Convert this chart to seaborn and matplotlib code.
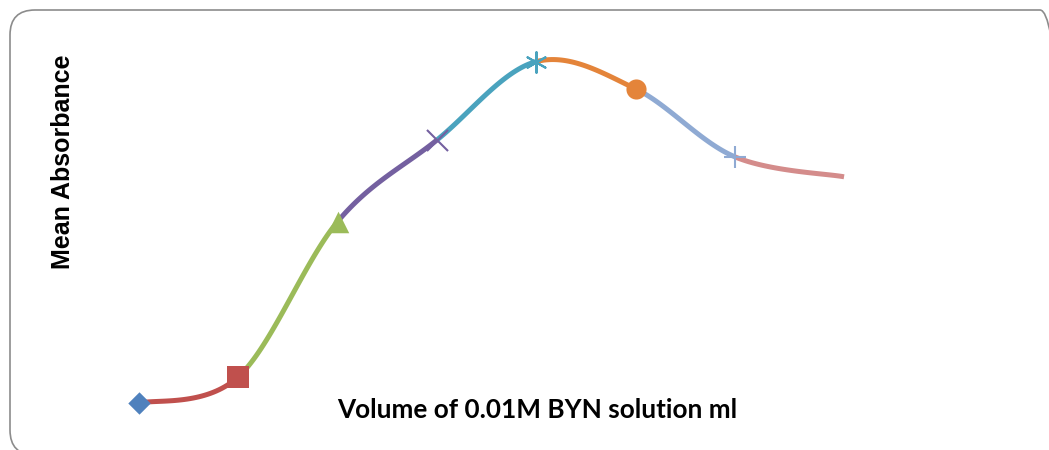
import numpy as np
import pandas as pd
import matplotlib
matplotlib.use("Agg")
import matplotlib.pyplot as plt
from matplotlib.patches import FancyBboxPatch
import seaborn as sns

# Measurements: volume of 0.01M BYN solution (ml) vs. mean absorbance
volume = [1.0, 2.0, 3.0, 4.0, 5.0, 6.0, 7.0, 8.1]
absorbance = [0.021, 0.054, 0.248, 0.350, 0.448, 0.414, 0.329, 0.304]

# Per-point styling: marker of each point and colour of the segment ending there
point_markers = ["D", "s", "^", "x", (6, 2, 0), "o", "+", None]
point_colors = ["#4F81BD", "#C0504D", "#9BBB59", "#7460A0", "#4AA3BE",
                "#E4843A", "#8FAAD3", "#D48C8B"]
marker_sizes = [130, 230, 240, 230, 220, 210, 260, 0]


def smooth_segments(xs, ys, n=40):
    """Bezier smoothing through the points (Catmull-Rom style tangents)."""
    P = np.column_stack([xs, ys]).astype(float)
    segs = []
    t = np.linspace(0, 1, n)[:, None]
    for i in range(len(P) - 1):
        p0 = P[i - 1] if i > 0 else P[i]
        p3 = P[i + 2] if i + 2 < len(P) else P[i + 1]
        b0, b3 = P[i], P[i + 1]
        b1 = b0 + (b3 - p0) / 6.0
        b2 = b3 - (p3 - b0) / 6.0
        c = ((1 - t) ** 3) * b0 + 3 * ((1 - t) ** 2) * t * b1 \
            + 3 * (1 - t) * t ** 2 * b2 + t ** 3 * b3
        segs.append(pd.DataFrame({"x": c[:, 0], "y": c[:, 1]}))
    return segs


sns.set_theme(style="white")
fig = plt.figure(figsize=(10.49, 4.5), dpi=100)
ax = fig.add_axes([0, 0, 1, 1])
ax.set_xlim(-0.4, 10.164)
ax.set_ylim(-0.0375, 0.525)
ax.axis("off")

for i, seg in enumerate(smooth_segments(volume, absorbance)):
    sns.lineplot(data=seg, x="x", y="y", ax=ax, sort=False,
                 color=point_colors[i + 1], linewidth=3.6, zorder=2,
                 solid_capstyle="butt")

for i, (vx, vy) in enumerate(zip(volume, absorbance)):
    m = point_markers[i]
    if m is None:
        continue
    unfilled = m in ("x", "+") or isinstance(m, tuple)
    sns.scatterplot(x=[vx], y=[vy], ax=ax, marker=m, s=marker_sizes[i],
                    color=point_colors[i], edgecolor=None if unfilled else point_colors[i],
                    linewidth=1.5 if unfilled else 0, zorder=3 + i)

fig.text(0.0600, 0.64, "Mean Absorbance", rotation=90, ha="center", va="center",
         fontsize=18, fontweight="bold", family=["Liberation Sans", "DejaVu Sans"],
         color="black")
fig.text(0.512, 0.0889, "Volume of 0.01M BYN solution ml", ha="center", va="center",
         fontsize=18.8, fontweight="bold", family=["Lato", "DejaVu Sans"], color="black")

frame = FancyBboxPatch((0.10, -0.05), 10.55, 4.45,
                       boxstyle="round,pad=0,rounding_size=0.25",
                       transform=fig.dpi_scale_trans, facecolor="none",
                       edgecolor="#8C8C8C", linewidth=1.2, clip_on=False)
fig.patches.append(frame)

fig.savefig("out.png", dpi=100)
